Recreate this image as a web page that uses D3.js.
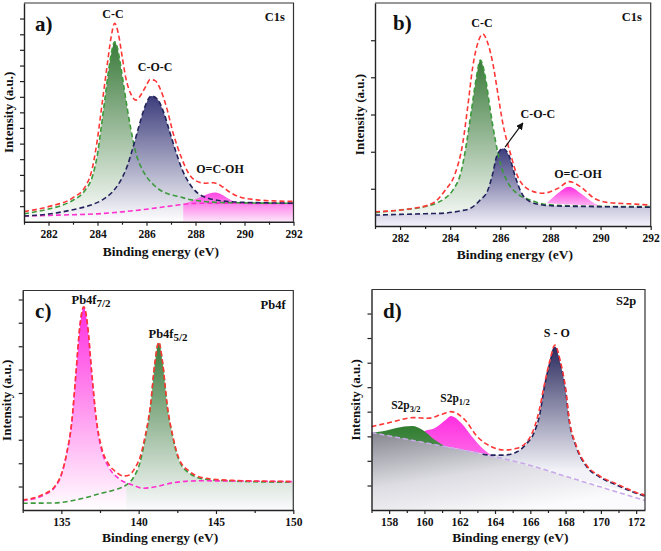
<!DOCTYPE html>
<html><head><meta charset="utf-8">
<script src="https://cdn.jsdelivr.net/npm/d3@7"></script>
<style>
body{margin:0;background:#fff}
text{font-family:"Liberation Serif","Times New Roman",serif;font-weight:bold;fill:#111}
</style>
</head><body>
<svg id="chart" width="661" height="551"></svg>
<script>
// ---------- DATA (x: binding energy eV, y: intensity, % of axis height) ----------
// Panel a) C1s
const aTicks = [282, 284, 286, 288, 290, 292];
const aMinor = [281, 283, 285, 287, 289, 291];
const aYTicks = [7.1,14.3,21.4,28.6,35.7,42.9,50,57.1,64.3,71.4,78.6,85.7,92.9];
const aBaseline = [[281,2.6],[282,2.9],[283,3.2],[284,3.6],[285,4.5],[286,5.7],[287,7.2],[288,8.4],[289,8.5],[290,8.4],[292,8.4]];
const aCC = [[281,3.6],[282,5.8],[282.5,7.3],[283,9.8],[283.5,14.5],[283.8,21],[284.0,31],[284.15,43],[284.3,56],[284.45,69],[284.6,79],[284.7,82.3],[284.8,80],[284.95,71],[285.1,60],[285.35,43],[285.6,30],[285.8,24.5],[286.0,20.6],[286.3,16.8],[286.55,14.5],[287.0,12.3],[287.35,11.4],[287.7,10.3],[288.3,9.3],[289,8.8],[290,8.6],[292,8.4]];
const aCOC = [[281,2.6],[282,3.5],[283,5.5],[283.7,7.5],[284.2,10],[284.6,13.5],[284.9,18],[285.2,25],[285.45,34],[285.7,44],[285.95,53],[286.2,57.5],[286.45,56],[286.7,50],[286.95,41],[287.2,32],[287.45,24],[287.75,17.5],[288.1,13],[288.5,10.8],[289,9.6],[289.5,9.1],[290.5,8.7],[292,8.5]];
const aCOOH = [[287.5,7.9],[287.9,9.8],[288.3,11.8],[288.6,13.0],[288.8,13.4],[289.0,12.8],[289.25,11.2],[289.5,9.6],[289.8,8.7],[290.2,8.5],[291,8.4],[292,8.4]];
const aEnvelope = [[281,4.6],[282,6.9],[283,11],[283.5,16],[283.8,25],[284.0,38],[284.2,55],[284.4,72],[284.55,84],[284.7,90.7],[284.85,86],[285.0,76],[285.15,66],[285.35,58.7],[285.58,55.6],[285.8,58.5],[286.0,62.5],[286.15,65],[286.35,64.5],[286.55,61],[286.8,53],[287.1,40],[287.4,30],[287.7,22.5],[288.0,18.8],[288.4,17.6],[288.73,17.8],[289.1,16],[289.4,13.5],[289.8,11.3],[290.5,10],[291.2,9.5],[292,9.3]];

// Panel b) C1s
const bTicks = [282, 284, 286, 288, 290, 292];
const bMinor = [281, 283, 285, 287, 289, 291];
const bYTicks = [16.7,33.3,50,66.7,83.3];
const bCC = [[281,6],[282,7.2],[283,8.7],[283.5,10.5],[283.8,12.5],[284.1,16],[284.45,25],[284.65,37],[284.85,52],[285.05,67],[285.2,74.4],[285.4,67],[285.6,52],[285.8,38.6],[286.0,28],[286.25,20.6],[286.65,14.7],[287.2,11.7],[287.7,9.9],[288.5,9.2],[290,8.8],[292,8.7]];
const bCOC = [[281,4.9],[282,5.2],[283,5.5],[283.8,5.8],[284.4,6.8],[284.8,7.9],[285.2,11.7],[285.5,16],[285.7,23.6],[285.85,31],[286.1,34.8],[286.35,31.5],[286.6,22],[286.85,14.7],[287.2,10.9],[287.7,9.4],[288.5,8.9],[289.8,8.7],[292,8.4]];
const bCOOH = [[287.85,10.2],[288.3,14.7],[288.75,17.6],[289.2,14.7],[289.75,10.2],[290.0,8.9]];
const bEnvelope = [[281,6.4],[282.5,7.9],[283.3,10.2],[283.8,16],[284.2,23.6],[284.5,37],[284.7,53.5],[284.9,71.4],[285.1,82],[285.3,86.1],[285.5,82],[285.7,73],[285.9,59.5],[286.1,46],[286.4,32.6],[286.7,22],[287.2,16],[287.7,14.7],[288.3,16.9],[288.75,19.9],[289.2,17.6],[289.75,12.4],[290.25,10.6],[291.2,9.9],[292,9.4]];

// Panel c) Pb4f
const cTicks = [135, 140, 145, 150];
const cMinor = [132.5, 137.5, 142.5, 147.5];
const cYTicks = [10.7,21.3,32,42.6,53.3,64,74.6,85.3,95.9];
const cPb72 = [[132.5,4.2],[133.85,6.8],[134.6,10.6],[135.0,15.9],[135.35,25.8],[135.67,39.5],[135.95,62.3],[136.2,83.5],[136.45,92.3],[136.7,83.5],[136.96,62.3],[137.28,39.5],[137.6,27.3],[138.05,19.7],[138.7,14.4],[139.6,11.4],[140.3,9.9],[141.1,10.6],[142.2,12.4],[143.9,13.3],[150,12.9]];
const cPb52 = [[132.5,3.1],[134.5,3.2],[135.5,4.0],[136.5,5.5],[137.5,7.5],[138.5,9.3],[139.2,11.4],[139.7,15.2],[140.1,22],[140.4,31.9],[140.76,47],[141.05,66.8],[141.3,76.2],[141.55,66.8],[141.85,47],[142.2,33.4],[142.6,22.8],[143.3,16.7],[144.3,14],[146.1,13.2],[150,12.6]];
const cEnvelope = [[132.5,4.6],[133.85,7.2],[134.6,11],[135.0,16.3],[135.35,26],[135.67,40],[135.95,63],[136.2,84],[136.45,92.6],[136.7,84],[136.96,63],[137.28,40.5],[137.6,28.5],[138.05,21],[138.5,17.5],[139.0,15.5],[139.4,16],[139.75,19],[140.1,24.3],[140.4,33],[140.76,47.5],[141.05,67],[141.3,76.5],[141.55,67],[141.85,47.5],[142.2,34],[142.6,23.5],[143.3,17.5],[144.3,14.5],[146.1,13.5],[150,13.0]];

// Panel d) S2p
const dTicks = [158, 160, 162, 164, 166, 168, 170, 172];
const dMinor = [157, 159, 161, 163, 165, 167, 169, 171];
const dYTicks = [11.1,22.3,33.4,44.6,55.7,66.8,78,89.1];
const dBaseline = [[157,35.1],[159,32.1],[161,29.0],[163.7,24.7],[166,20.2],[168,15.3],[170,10.4],[172.5,4.3]];
const dSO = [[163.3,25.3],[163.8,24.9],[164.5,24.9],[165.25,26.4],[165.8,30.2],[166.2,34.8],[166.55,43.9],[166.8,55.9],[167.1,66.5],[167.4,74.1],[167.7,66.5],[168.0,54.4],[168.2,40.8],[168.6,28.7],[169.2,19.6],[169.9,15.1],[170.9,11.3],[172.3,6.8],[172.5,6.3]];
const dSp32 = [[157,35.1],[157.85,36],[158.4,37.2],[159.3,38.1],[159.9,36.3],[160.6,31.7],[161.2,28.7]];
const dSp12 = [[159.2,32.0],[159.6,33.6],[159.9,35.5],[160.6,37.2],[161.2,40.8],[161.5,42.6],[162.1,39.3],[162.7,33.2],[163.2,28.7],[163.8,24.8]];
const dEnvelope = [[157,37.8],[158,39.6],[159.4,41.9],[160.2,41.6],[160.9,43.1],[161.5,44.6],[162.3,40.8],[163.0,33.2],[163.8,28.7],[164.5,27.2],[165.25,28],[166.0,33.2],[166.5,45],[166.8,57],[167.1,67.5],[167.4,74.8],[167.7,67.5],[168.0,55],[168.2,41.5],[168.6,29.3],[169.2,20.2],[169.9,15.6],[170.9,11.8],[172.3,7.2],[172.5,6.8]];

// ---------- COLOURS ----------
const RED = "#ff3636", GREEN_L = "#3c9a3c", NAVY_L = "#23235c", PINK_L = "#ff30d0", LAV_L = "#c8a8e8";
const GREEN_F = "#3b7a3b", NAVY_F = "#3c3c7c", PINK_F = "#ff2ee0";

// ---------- PANELS ----------
const panels = [
  {id:"a", left:24, right:293.5, top:3, bottom:221.7, xd:[281,292], ticks:aTicks, minor:aMinor, yticks:aYTicks,
   tickY:16.5, titleY:256,
   fills:[
     {data:aCC, mode:"bottom", c0:GREEN_F, c1:"#ffffff"},
     {data:aCOC, mode:"bottom", c0:NAVY_F, c1:"#ffffff"},
     {data:aCOOH, mode:"bottom", c0:"#ff44e2", c1:"#fde6fa"}
   ],
   lines:[{data:aBaseline,c:PINK_L},{data:aCC,c:GREEN_L},{data:aCOC,c:NAVY_L},{data:aEnvelope,c:RED}],
   labels:[{t:"C-C",x:284.63,y:93.1},{t:"C-O-C",x:286.35,y:68.9},{t:"O=C-OH",x:289.0,y:22.3}],
   tag:"a)", tagX:281.45, tagY:87.2, core:"C1s", coreX:291.65, coreY:91.8},
  {id:"b", left:375, right:650.7, top:3, bottom:226, xd:[281,292], ticks:bTicks, minor:bMinor, yticks:bYTicks,
   tickY:15.5, titleY:259,
   fills:[
     {data:bCC, mode:"bottom", c0:GREEN_F, c1:"#ffffff"},
     {data:bCOC, mode:"bottom", c0:NAVY_F, c1:"#f4f2fa"},
     {data:bCOOH, mode:"closed", c0:PINK_F, c1:"#ffb8f4"}
   ],
   lines:[{data:bCC,c:GREEN_L},{data:bCOC,c:NAVY_L},{data:bEnvelope,c:RED}],
   labels:[{t:"C-C",x:285.27,y:89.2},{t:"C-O-C",x:287.5,y:48.4},{t:"O=C-OH",x:289.1,y:21.5}],
   arrow:{x1:286.19,y1:35.4,x2:286.9,y2:46.2},
   tag:"b)", tagX:281.72, tagY:87.9, core:"C1s", coreX:291.65, coreY:91.9},
  {id:"c", left:22.7, right:293.3, top:290.5, bottom:510, xd:[132.5,150], ticks:cTicks, minor:cMinor, yticks:cYTicks,
   tickY:15.5, titleY:542,
   fills:[
     {data:cPb72, mode:"bottom", c0:PINK_F, c1:"#ffffff"},
     {data:cPb52, mode:"bottom", c0:GREEN_F, c1:"#fbfbfd", from:139.0}
   ],
   lines:[{data:cPb52,c:GREEN_L},{data:cPb72,c:PINK_L},{data:cEnvelope,c:RED}],
   labels:[{t:"Pb4f",sub:"7/2",x:136.92,y:93.8,sz:12.5,subsz:11},{t:"Pb4f",sub:"5/2",x:141.9,y:78.4,sz:12.5,subsz:11}],
   tag:"c)", tagX:133.3, tagY:87.5, core:"Pb4f", coreX:149.5, coreY:91.6},
  {id:"d", left:371.5, right:645, top:289.5, bottom:510, xd:[157,172.5], ticks:dTicks, minor:dMinor, yticks:dYTicks,
   tickY:15.5, titleY:542,
   fills:[
     {data:dBaseline, mode:"bottom", grey:true},
     {data:dSO, mode:"closed", c0:"#2a2a5e", c1:"#f2f2f8", bot:18},
     {data:dSp12, mode:"closed", c0:PINK_F, c1:"#ff66e8"},
     {data:dSp32, mode:"closed", c0:"#2f7d2f", c1:"#4a8a4a"}
   ],
   lines:[{data:dBaseline,c:LAV_L},{data:dSO,c:NAVY_L},{data:dEnvelope,c:RED}],
   labels:[{t:"S2p",sub:"3/2",x:158.95,y:45.8,sz:11.5,subsz:8.5},{t:"S2p",sub:"1/2",x:161.73,y:49,sz:11.5,subsz:8.5},{t:"S - O",x:167.5,y:78.5}],
   tag:"d)", tagX:157.65, tagY:87.1, core:"S2p", coreX:172.0, coreY:93}
];

const svg = d3.select("#chart");
const defs = svg.append("defs");
defs.append("marker").attr("id","arr").attr("viewBox","0 0 10 10").attr("refX",9).attr("refY",5)
  .attr("markerWidth",6).attr("markerHeight",6).attr("orient","auto")
  .append("path").attr("d","M0,0 L10,5 L0,10 z").attr("fill","#111");

let gid = 0;
panels.forEach(p => {
  const x = d3.scaleLinear().domain(p.xd).range([p.left, p.right]);
  const y = d3.scaleLinear().domain([0,100]).range([p.bottom, p.top]);
  const g = svg.append("g");
  defs.append("clipPath").attr("id","clip"+p.id).append("rect")
    .attr("x",p.left).attr("y",p.top).attr("width",p.right-p.left).attr("height",p.bottom-p.top);
  const plot = g.append("g").attr("clip-path",`url(#clip${p.id})`);

  const line = d3.line().x(d=>x(d[0])).y(d=>y(d[1])).curve(d3.curveMonotoneX);
  const area = d3.area().x(d=>x(d[0])).y0(y(0)).y1(d=>y(d[1])).curve(d3.curveMonotoneX);

  p.fills.forEach(f => {
    const id = "gr"+(gid++);
    const maxY = d3.max(f.data, d=>d[1]);
    let gr;
    if (f.grey) {
      gr = defs.append("linearGradient").attr("id",id).attr("x1",0).attr("y1",0).attr("x2",0.55).attr("y2",1);
      gr.append("stop").attr("offset",0).attr("stop-color","#85858f");
      gr.append("stop").attr("offset",0.55).attr("stop-color","#dcdce2");
      gr.append("stop").attr("offset",1).attr("stop-color","#fbfbfd");
    } else {
      const yBot = f.mode==="bottom" ? y(0) : y(f.bot!==undefined ? f.bot : d3.min(f.data,d=>d[1]));
      gr = defs.append("linearGradient").attr("id",id).attr("gradientUnits","userSpaceOnUse")
        .attr("x1",0).attr("x2",0).attr("y1",y(maxY)).attr("y2",yBot);
      gr.append("stop").attr("offset",0).attr("stop-color",f.c0);
      gr.append("stop").attr("offset",1).attr("stop-color",f.c1);
    }
    const data = f.from ? f.data.filter(d=>d[0]>=f.from) : f.data;
    const dpath = f.mode==="bottom" ? area(data) : line(data)+"Z";
    plot.append("path").attr("d",dpath).attr("fill",`url(#${id})`).attr("stroke","none");
  });
  p.lines.forEach(l => {
    plot.append("path").attr("d",line(l.data)).attr("fill","none").attr("stroke",l.c)
      .attr("stroke-width",1.6).attr("stroke-dasharray","5,3");
  });

  // frame
  g.append("path").attr("d",`M${p.left},${p.top}H${p.right}V${p.bottom}`).attr("fill","none").attr("stroke","#333").attr("stroke-width",1.2);
  // axes
  const xa = g.append("g").attr("transform",`translate(0,${p.bottom})`)
    .call(d3.axisBottom(x).tickValues(p.ticks).tickSize(4).tickSizeOuter(0).tickFormat(d3.format("d")));
  g.append("g").attr("transform",`translate(0,${p.bottom})`)
    .call(d3.axisBottom(x).tickValues(p.minor).tickSize(3).tickSizeOuter(0).tickFormat(""))
    .select(".domain").remove();
  const ya = g.append("g").attr("transform",`translate(${p.left},0)`)
    .call(d3.axisLeft(y).tickValues(p.yticks).tickSize(4).tickSizeOuter(0).tickFormat(""));
  [xa, ya].forEach(a => { a.attr("font-family",null); a.select(".domain").attr("stroke","#222").attr("stroke-width",1.4); });
  g.selectAll(".tick line").attr("stroke","#222").attr("stroke-width",1.2);
  xa.selectAll("text").attr("font-size",11.5).attr("y",p.tickY).attr("dy",null).attr("fill","#111")
    .style("font-family","'Liberation Serif',serif").style("font-weight","bold");

  // axis titles
  g.append("text").attr("x",(p.left+p.right)/2+2).attr("y",p.titleY).attr("text-anchor","middle")
    .attr("font-size",13.5).text("Binding energy (eV)");
  g.append("text").attr("transform",`translate(${p.left-16},${(p.top+p.bottom)/2}) rotate(-90)`)
    .attr("dy","0.35em").attr("text-anchor","middle").attr("font-size",13).text("Intensity (a.u.)");

  // tag and core
  g.append("text").attr("x",x(p.tagX)).attr("y",y(p.tagY)).attr("font-size",21).text(p.tag);
  g.append("text").attr("x",x(p.coreX)).attr("y",y(p.coreY)).attr("text-anchor","end").attr("font-size",12.5).text(p.core);

  p.labels.forEach(lb => {
    const t = g.append("text").attr("x",x(lb.x)).attr("y",y(lb.y)).attr("text-anchor","middle").attr("font-size",lb.sz||12);
    t.append("tspan").text(lb.t);
    if (lb.sub) t.append("tspan").attr("font-size",lb.subsz).attr("dy",3).text(lb.sub);
  });
  if (p.arrow) {
    g.append("line").attr("x1",x(p.arrow.x1)).attr("y1",y(p.arrow.y1)).attr("x2",x(p.arrow.x2)).attr("y2",y(p.arrow.y2))
      .attr("stroke","#111").attr("stroke-width",1.2).attr("marker-end","url(#arr)");
  }
});
</script>
</body></html>
